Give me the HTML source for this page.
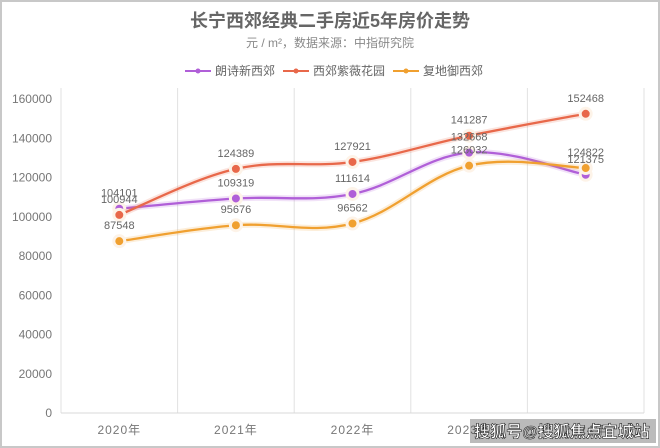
<!DOCTYPE html>
<html><head><meta charset="utf-8"><style>
body{margin:0;background:#fff}
svg{display:block;font-family:"Liberation Sans","Noto Sans CJK SC",sans-serif}
</style></head><body>
<svg id="c" width="660" height="448" viewBox="0 0 660 448" xmlns="http://www.w3.org/2000/svg">
<rect x="1" y="1" width="658" height="446" fill="#fff" stroke="#c8c8c8" stroke-width="2"/>
<text x="330" y="27" text-anchor="middle" font-size="18" font-weight="bold" fill="#666">长宁西郊经典二手房近5年房价走势</text>
<text x="330" y="47" text-anchor="middle" font-size="12" fill="#888">元 / m²，数据来源：中指研究院</text>
<g id="legend"></g>
<g id="grid"></g>
<g id="series"></g>
<g id="labels"></g>
<rect x="470" y="419" width="186" height="24" fill="rgba(60,60,60,0.35)"/>
<text x="562" y="437" text-anchor="middle" font-size="16" font-weight="bold" fill="#fff" stroke="#222" stroke-width="0.6">搜狐号@搜狐焦点宜城站</text>
</svg>
<script>
const categories=["2020年","2021年","2022年","2023年","2024年"];
const seriesNames=["朗诗新西郊","西郊紫薇花园","复地御西郊"];
const langshi=[104101,109319,111614,132668,121375];
const ziwei=[100944,124389,127921,141287,152468];
const yuxijiao=[87548,95676,96562,126032,124822];
const yTicks=[0,20000,40000,60000,80000,100000,120000,140000,160000];
const colors=["#b05fd8","#e8684a","#f0a030"];
const NS="http://www.w3.org/2000/svg";
const L=61,R=644,T=99,B=413,yMax=160000;
const bw=(R-L)/categories.length;
const xs=i=>L+bw*(i+0.5);
const ys=v=>B-(v/yMax)*(B-T);
function mk(tag,attrs,parent){const e=document.createElementNS(NS,tag);for(const k in attrs)e.setAttribute(k,attrs[k]);parent.appendChild(e);return e;}
const grid=document.getElementById('grid');
for(let i=0;i<=categories.length;i++){
  const l=mk('line',{x1:L+bw*i,x2:L+bw*i,y1:88,y2:B,stroke:'#e2e2e2','stroke-width':1},grid);
  
  
}
const ax=mk('line',{x1:L,x2:R,y1:B,y2:B,stroke:'#d8d8d8'},grid);


yTicks.forEach(v=>{
  const t=mk('text',{x:52,y:ys(v)+4,'text-anchor':'end','font-size':12,fill:'#777'},grid);
  t.textContent=v;
  
  
});
categories.forEach((c,i)=>{
  const t=mk('text',{x:xs(i),y:434,'text-anchor':'middle','font-size':12,fill:'#777','letter-spacing':'1'},grid);
  t.textContent=c;
  
  
});
function path(vals){
  const p=vals.map((v,i)=>[xs(i),ys(v)]);let d=`M${p[0][0]},${p[0][1]}`;
  for(let i=0;i<p.length-1;i++){const p0=p[i-1]||p[i],p1=p[i],p2=p[i+1],p3=p[i+2]||p2;const k=0.18;
    d+=` C${p1[0]+(p2[0]-p0[0])*k},${p1[1]+(p2[1]-p0[1])*k} ${p2[0]-(p3[0]-p1[0])*k},${p2[1]-(p3[1]-p1[1])*k} ${p2[0]},${p2[1]}`;}
  return d;
}
const sg=document.getElementById('series'),lg=document.getElementById('labels');
const data=[langshi,ziwei,yuxijiao];
data.forEach((vals,s)=>{
  const g=mk('path',{d:path(vals),fill:'none',stroke:colors[s],'stroke-width':6,'stroke-opacity':0.18},sg);
  
  
  const p=mk('path',{d:path(vals),fill:'none',stroke:colors[s],'stroke-width':2.3},sg);
  
  
  vals.forEach((v,i)=>{
    const c=mk('circle',{cx:xs(i),cy:ys(v),r:5.5,fill:colors[s],stroke:'#fdf3e8','stroke-width':3},sg);
    
    
    const t=mk('text',{x:xs(i),y:ys(v)-12,'text-anchor':'middle','font-size':11,fill:'#666'},lg);
    t.textContent=v;
    
    
  });
});
const leg=document.getElementById('legend');
let lx=185;
seriesNames.forEach((n,s)=>{
  const l=mk('line',{x1:lx,x2:lx+26,y1:71,y2:71,stroke:colors[s],'stroke-width':2},leg);
  
  
  const c=mk('circle',{cx:lx+13,cy:71,r:2.5,fill:colors[s]},leg);
  
  
  const t=mk('text',{x:lx+30,y:75,'font-size':12,fill:'#666'},leg);
  t.textContent=n;
  
  
  lx+=30+n.length*12+8;
});
</script>
</body></html>
